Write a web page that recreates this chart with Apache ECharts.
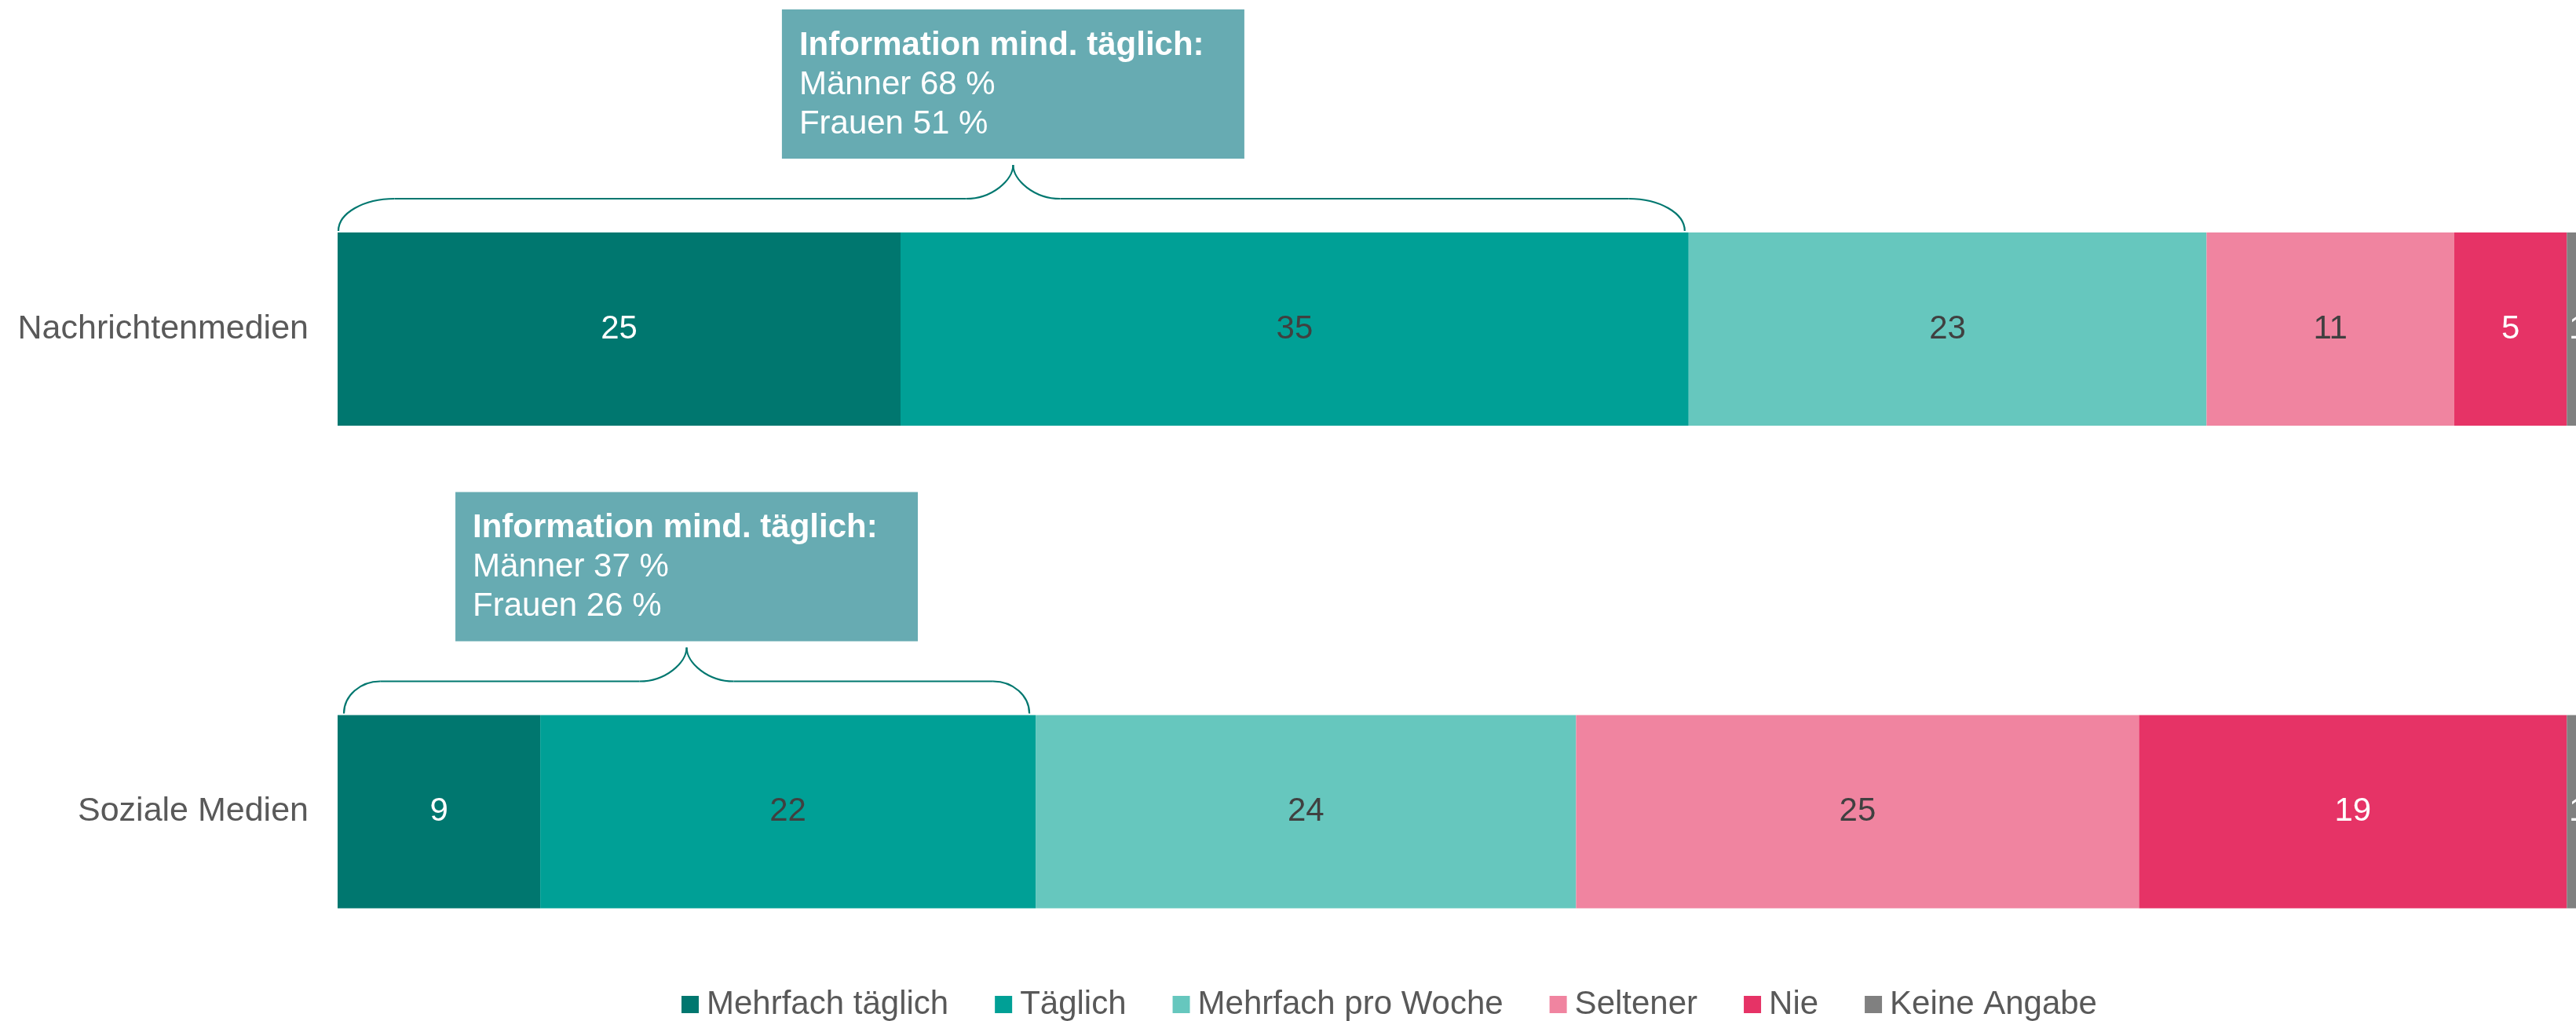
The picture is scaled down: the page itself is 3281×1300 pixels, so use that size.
<!DOCTYPE html>
<html>
<head>
<meta charset="utf-8">
<script src="https://cdn.jsdelivr.net/npm/echarts@6/dist/echarts.min.js"></script>
<style>
html,body{margin:0;padding:0;background:#fff;}
#chart{width:3281px;height:1300px;}
</style>
</head>
<body>
<div id="chart"></div>
<script>
// ---- data ----
const categories = ['Nachrichtenmedien', 'Soziale Medien'];
const seriesNames = ['Mehrfach täglich', 'Täglich', 'Mehrfach pro Woche', 'Seltener', 'Nie', 'Keine Angabe'];
const mehrfachTaeglich = [25, 9];
const taeglich = [35, 22];
const mehrfachProWoche = [23, 24];
const seltener = [11, 25];
const nie = [5, 19];
const keineAngabe = [1, 1];
const annotTitle = 'Information mind. täglich:';
const maennerTaeglich = [68, 37];
const frauenTaeglich = [51, 26];

const seriesValues = [mehrfachTaeglich, taeglich, mehrfachProWoche, seltener, nie, keineAngabe];
const colors = ['#00776F', '#00A096', '#66C7BE', '#F084A0', '#E63366', '#808080'];
const labelColors = ['#FFFFFF', '#404040', '#404040', '#404040', '#FFFFFF', '#FFFFFF'];
const FONT = '"Liberation Sans", Arial, Helvetica, sans-serif';

const chart = echarts.init(document.getElementById('chart'));

const series = seriesNames.map((name, i) => ({
  name: name,
  type: 'bar',
  stack: 'total',
  barWidth: 246,
  data: seriesValues[i],
  itemStyle: { color: colors[i] },
  label: {
    show: true,
    position: 'inside',
    color: labelColors[i],
    fontSize: 42,
    fontFamily: FONT
  },
  emphasis: { disabled: true }
}));

chart.setOption({
  animation: false,
  backgroundColor: '#FFFFFF',
  textStyle: { fontFamily: FONT },
  grid: { left: 430, width: 2868, top: 111.75, height: 1229, containLabel: false, outerBoundsMode: 'none' },
  xAxis: {
    type: 'value', min: 0, max: 100,
    show: false
  },
  yAxis: {
    type: 'category',
    data: categories,
    inverse: true,
    axisLine: { show: false },
    axisTick: { show: false },
    splitLine: { show: false },
    axisLabel: { color: '#595959', fontSize: 43, fontFamily: FONT, margin: 37 }
  },
  legend: {
    left: 863,
    top: 1253,
    itemWidth: 22,
    itemHeight: 22,
    itemGap: 59,
    icon: 'rect',
    textStyle: { color: '#595959', fontSize: 42, fontFamily: FONT, padding: [0, 0, 0, 5] },
    data: seriesNames
  },
  series: series
});

// ---- annotations (braces + boxes) computed from data via the chart's scales ----
function buildAnnotations() {
  const graphics = [];
  const strokeStyle = { fill: null, stroke: '#00776F', lineWidth: 2.2 };
  const k = 0.55;
  function curve(ax, ay, c1x, c1y, c2x, c2y, bx, by) {
    graphics.push({
      type: 'bezierCurve',
      shape: { x1: ax, y1: ay, cpx1: c1x, cpy1: c1y, cpx2: c2x, cpy2: c2y, x2: bx, y2: by },
      style: strokeStyle, silent: true
    });
  }
  function line(ax, ay, bx, by) {
    graphics.push({
      type: 'line',
      shape: { x1: ax, y1: ay, x2: bx, y2: by },
      style: strokeStyle, silent: true
    });
  }
  categories.forEach((cat, ci) => {
    const sumDaily = mehrfachTaeglich[ci] + taeglich[ci];
    const p0 = chart.convertToPixel({ gridIndex: 0 }, [0, ci]);
    const p1 = chart.convertToPixel({ gridIndex: 0 }, [sumDaily, ci]);
    const barTop = p0[1] - 123;
    const inset0 = ci === 0 ? 1 : 8;
    const inset1 = ci === 0 ? 5 : 8;
    const x0 = p0[0] + inset0;
    const x1 = p1[0] - inset1;
    const xc = (p0[0] + p1[0]) / 2;
    const yb = barTop - 2;
    const yh = barTop - 43;
    const yt = barTop - 86;
    const len = x1 - x0;
    const cw = 20 + 0.03 * len;
    const cc = 60;
    curve(x0, yb, x0, yb - k * (yb - yh), x0 + cw - k * cw, yh, x0 + cw, yh);
    line(x0 + cw, yh, xc - cc, yh);
    curve(xc - cc, yh, xc - cc + k * cc, yh, xc, yh - k * (yh - yt), xc, yt);
    curve(xc, yt, xc, yh - k * (yh - yt), xc + cc - k * cc, yh, xc + cc, yh);
    line(xc + cc, yh, x1 - cw, yh);
    curve(x1 - cw, yh, x1 - cw + k * cw, yh, x1, yb - k * (yb - yh), x1, yb);

    const bw = 589, bh = 190;
    const bx = xc - bw / 2;
    const by = barTop - 94 - bh;
    graphics.push({
      type: 'rect',
      shape: { x: bx, y: by, width: bw, height: bh },
      style: { fill: '#67ABB2' },
      silent: true
    });
    graphics.push({
      type: 'text',
      x: bx + 22,
      y: by + bh / 2 + 1,
      style: {
        text: `{b|${annotTitle}}\n{n|Männer ${maennerTaeglich[ci]} %}\n{n|Frauen ${frauenTaeglich[ci]} %}`,
        verticalAlign: 'middle',
        align: 'left',
        rich: {
          b: { fontSize: 42, fontWeight: 'bold', fill: '#FFFFFF', fontFamily: FONT, lineHeight: 50 },
          n: { fontSize: 42, fill: '#FFFFFF', fontFamily: FONT, lineHeight: 50 }
        }
      },
      silent: true
    });
  });
  chart.setOption({ graphic: graphics });
}
buildAnnotations();
</script>
</body>
</html>
